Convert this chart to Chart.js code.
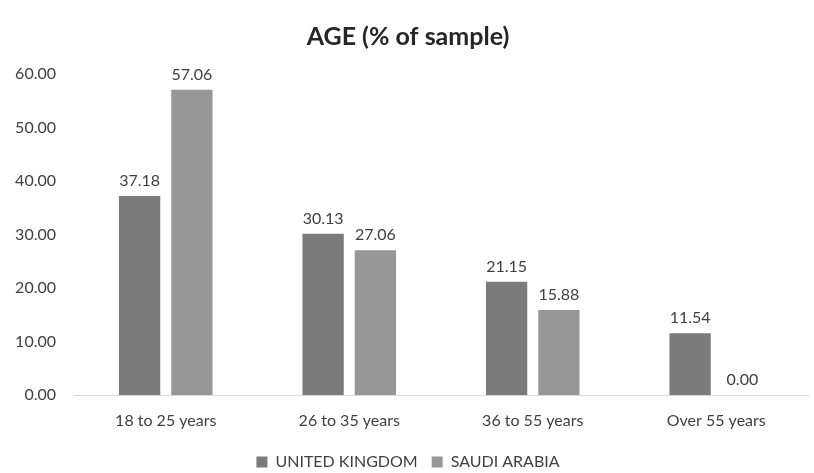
<!DOCTYPE html>
<html>
<head>
<meta charset="utf-8">
<script src="https://cdn.jsdelivr.net/npm/chart.js@4/dist/chart.umd.min.js"></script>
<style>
  html, body { margin: 0; padding: 0; background: #fff; }
  #wrap { width: 814px; height: 473px; }
</style>
</head>
<body>
<div id="wrap"><canvas id="ageChart" width="814" height="473"></canvas></div>
<script>
const categories = ['18 to 25 years', '26 to 35 years', '36 to 55 years', 'Over 55 years'];
const ukValues = [37.18, 30.13, 21.15, 11.54];
const saValues = [57.06, 27.06, 15.88, 0.00];
const seriesNames = ['UNITED KINGDOM', 'SAUDI ARABIA'];

const FONT = 'Lato, "Open Sans", sans-serif';

// draw value above each bar
const valueLabels = {
  id: 'valueLabels',
  afterDatasetsDraw(chart) {
    const ctx = chart.ctx;
    ctx.save();
    ctx.font = '16px ' + FONT;
    ctx.fillStyle = '#404040';
    ctx.textAlign = 'center';
    ctx.textBaseline = 'bottom';
    chart.data.datasets.forEach((ds, i) => {
      chart.getDatasetMeta(i).data.forEach((bar, j) => {
        ctx.fillText(ds.data[j].toFixed(2), bar.x, bar.y - 7);
      });
    });
    ctx.restore();
  }
};

const ctx = document.getElementById('ageChart').getContext('2d');
new Chart(ctx, {
  type: 'bar',
  data: {
    labels: categories,
    datasets: [
      { label: seriesNames[0], data: ukValues, backgroundColor: '#7b7b7b' },
      { label: seriesNames[1], data: saValues, backgroundColor: '#979797' }
    ]
  },
  options: {
    responsive: false,
    animation: false,
    categoryPercentage: 0.57,
    barPercentage: 0.79,
    layout: { padding: { left: 8, right: 6, top: 8, bottom: -7 } },
    plugins: {
      title: {
        display: true,
        text: 'AGE (% of sample)',
        color: '#262626',
        font: { family: FONT, size: 25, weight: 'bold' },
        padding: { top: 14, bottom: 22 }
      },
      legend: {
        position: 'bottom',
        labels: {
          color: '#404040',
          font: { family: FONT, size: 16 },
          boxWidth: 11,
          boxHeight: 11,
          padding: 14
        }
      },
      tooltip: { enabled: false }
    },
    scales: {
      x: {
        grid: { display: false },
        border: { color: '#d9d9d9' },
        ticks: { color: '#404040', font: { family: FONT, size: 16 }, padding: 8 },
        afterFit(scale) { scale.height = 45; }
      },
      y: {
        min: 0,
        max: 60,
        ticks: {
          stepSize: 10,
          color: '#404040',
          font: { family: FONT, size: 16 },
          padding: 10,
          callback: v => v.toFixed(2)
        },
        grid: { display: false },
        border: { display: false },
        afterFit(scale) { scale.width = 66; }
      }
    }
  },
  plugins: [valueLabels]
});
</script>
</body>
</html>
